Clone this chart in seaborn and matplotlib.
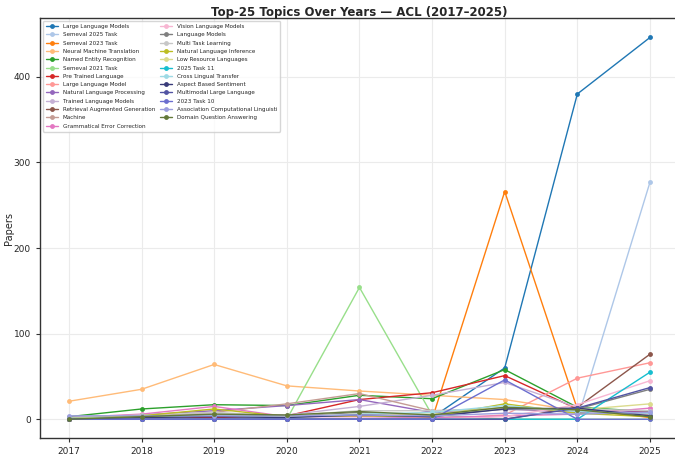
import pandas as pd
import seaborn as sns
import matplotlib.pyplot as plt

years = [2017, 2018, 2019, 2020, 2021, 2022, 2023, 2024, 2025]

topics = [
    "Large Language Models", "Semeval 2025 Task", "Semeval 2023 Task",
    "Neural Machine Translation", "Named Entity Recognition", "Semeval 2021 Task",
    "Pre Trained Language", "Large Language Model", "Natural Language Processing",
    "Trained Language Models", "Retrieval Augmented Generation", "Machine",
    "Grammatical Error Correction", "Vision Language Models", "Language Models",
    "Multi Task Learning", "Natural Language Inference", "Low Resource Languages",
    "2025 Task 11", "Cross Lingual Transfer", "Aspect Based Sentiment",
    "Multimodal Large Language", "2023 Task 10", "Association Computational Linguisti",
    "Domain Question Answering",
]

counts = [
    [0, 0, 0, 0, 0, 2, 60, 380, 446],
    [0, 0, 0, 0, 0, 0, 0, 0, 277],
    [0, 0, 0, 0, 0, 0, 266, 12, 2],
    [21, 35, 64, 39, 33, 28, 23, 10, 5],
    [3, 12, 17, 16, 28, 24, 58, 14, 9],
    [0, 0, 0, 0, 154, 5, 0, 0, 0],
    [0, 1, 2, 4, 23, 31, 51, 12, 8],
    [0, 0, 0, 0, 0, 0, 5, 48, 66],
    [2, 5, 10, 16, 23, 8, 12, 8, 10],
    [1, 3, 6, 5, 15, 28, 43, 14, 5],
    [0, 0, 0, 0, 0, 0, 0, 14, 76],
    [1, 4, 8, 18, 30, 10, 12, 10, 6],
    [2, 6, 15, 3, 3, 2, 4, 6, 13],
    [0, 0, 0, 0, 0, 0, 3, 17, 45],
    [1, 3, 5, 4, 8, 4, 12, 12, 35],
    [2, 5, 8, 4, 10, 10, 11, 12, 10],
    [1, 4, 12, 3, 4, 3, 18, 7, 3],
    [0, 2, 5, 3, 6, 6, 14, 11, 18],
    [0, 0, 0, 0, 0, 0, 0, 0, 55],
    [1, 2, 4, 2, 6, 8, 16, 9, 7],
    [0, 2, 3, 2, 5, 3, 12, 13, 4],
    [0, 0, 0, 0, 0, 0, 0, 13, 37],
    [0, 0, 0, 0, 0, 0, 46, 0, 0],
    [4, 4, 4, 4, 5, 4, 7, 6, 8],
    [0, 3, 6, 5, 9, 5, 14, 11, 3],
]

rows = []
for t, vals in zip(topics, counts):
    for y, v in zip(years, vals):
        rows.append({"Year": y, "Papers": v, "Topic": t})
df = pd.DataFrame(rows)

palette = sns.color_palette("tab20", 20) + sns.color_palette("tab20b", 20)[:5]

sns.set_style("whitegrid")
plt.rcParams["axes.edgecolor"] = "#333333"
plt.rcParams["grid.color"] = "#ebebeb"

fig = plt.figure(figsize=(6.75, 4.59), dpi=100)
ax = fig.add_axes([0.059, 0.045, 0.947, 0.915])
sns.lineplot(data=df, x="Year", y="Papers", hue="Topic", hue_order=topics,
             palette=palette, marker="o", markersize=3.5, markeredgewidth=0,
             linewidth=1.0, ax=ax)

ax.set_xticks(years)
ax.set_xlim(2016.6, 2025.4)
ax.tick_params(axis="both", labelsize=6.5, length=3, width=0.8, color="#333333",
               left=True, bottom=True)
for s in ax.spines.values():
    s.set_linewidth(1.0)
ax.set_title("Top-25 Topics Over Years — ACL (2017–2025)", fontsize=8.5,
             fontweight="bold", pad=2)
ax.set_xlabel("Year", fontsize=7, labelpad=2)
ax.set_ylabel("Papers", fontsize=7, labelpad=0)
ax.legend(ncol=2, fontsize=4.1, loc="upper left", frameon=True,
          handlelength=2.2, labelspacing=0.58, columnspacing=0.8,
          borderpad=0.5)

fig.savefig("out.png", dpi=100)
